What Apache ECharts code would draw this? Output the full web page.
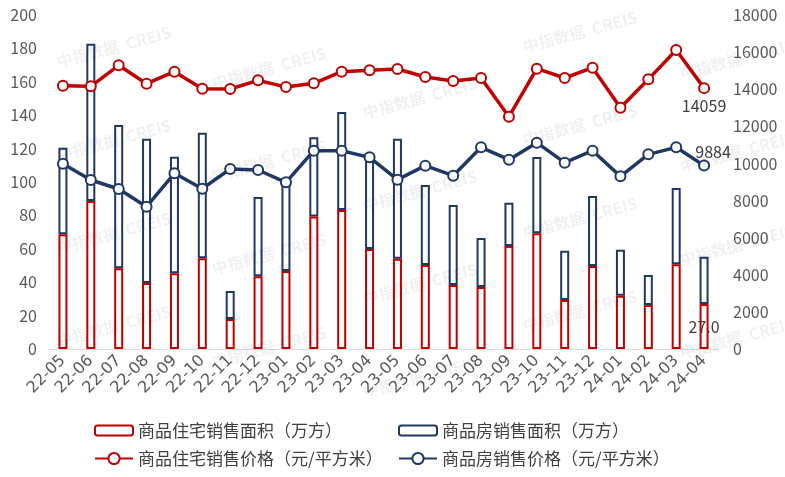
<!DOCTYPE html>
<html>
<head>
<meta charset="utf-8">
<script src="https://cdn.jsdelivr.net/npm/echarts@6/dist/echarts.min.js"></script>
<style>html,body{margin:0;padding:0;background:#fff}#c{width:785px;height:477px}</style>
</head>
<body>
<div id="c"></div>
<script>
var categories = ['22-05','22-06','22-07','22-08','22-09','22-10','22-11','22-12','23-01','23-02','23-03','23-04','23-05','23-06','23-07','23-08','23-09','23-10','23-11','23-12','24-01','24-02','24-03','24-04'];
var resArea = [68.7,88.6,48.3,39.5,45.3,54.3,18.0,43.5,46.7,79.4,83.2,59.9,54.0,50.3,38.3,37.1,61.7,69.3,29.3,49.7,31.9,26.3,50.7,27.0];
var totalArea = [120.5,182.8,134.1,125.9,115.1,129.5,34.7,91.0,99.4,126.8,141.9,113.0,125.9,98.2,86.2,66.5,87.6,115.0,58.9,91.6,59.5,44.3,96.4,55.3];
var resPrice = [14190,14155,15288,14299,14946,14030,14010,14479,14120,14318,14946,15018,15090,14658,14443,14604,12521,15108,14604,15162,13005,14533,16113,14059];
var totalPrice = [9987,9108,8623,7670,9467,8640,9700,9646,8982,10688,10688,10329,9126,9880,9341,10868,10203,11120,10041,10688,9305,10491,10868,9884];
var leftTicks = {min:0, max:200, interval:20};
var rightTicks = {min:0, max:18000, interval:2000};

var RED = '#C00000', BLUE = '#203864', TXT = '#595959';
var FONT = '"Noto Sans CJK SC", "Noto Sans", sans-serif';
var last = categories.length - 1;

var wm = [];
var wmPos = [[114,47],[114,140],[114,233],[114,326],
             [269,68],[269,161],[269,254],[269,347],
             [420,98],[420,191],[420,284],[420,377],
             [580,32],[580,125],[580,218],[580,311],
             [737,59],[737,152],[737,245],[737,338]];
wmPos.forEach(function(p){
  wm.push({type:'text', x:p[0], y:p[1], rotation:Math.PI/12, z:100, silent:true,
    style:{text:'中指数据  CREIS', font:'bold 16px ' + FONT, fill:'rgba(0,0,0,0.06)', align:'center', verticalAlign:'middle'}});
});

var chart = echarts.init(document.getElementById('c'));
var legendBase = {orient:'horizontal', itemWidth:38, itemHeight:10, itemGap:0, padding:0,
  textStyle:{fontFamily:FONT, fontSize:17, color:'#404040'}};
chart.setOption({
  animation:false,
  textStyle:{fontFamily:FONT},
  graphic: wm,
  grid:{left:49, right:67, top:15, bottom:128, containLabel:false},
  legend:[
    Object.assign({}, legendBase, {left:94, top:422, data:['商品住宅销售面积（万方）']}),
    Object.assign({}, legendBase, {left:398, top:422, data:['商品房销售面积（万方）']}),
    Object.assign({}, legendBase, {left:94, top:450, itemHeight:14, data:['商品住宅销售价格（元/平方米）']}),
    Object.assign({}, legendBase, {left:398, top:450, itemHeight:14, data:['商品房销售价格（元/平方米）']})
  ],
  xAxis:{type:'category', data:categories, boundaryGap:true,
    axisLine:{lineStyle:{color:'#D9D9D9', width:1}}, axisTick:{show:false},
    axisLabel:{rotate:45, interval:0, fontSize:16, fontFamily:'"DejaVu Sans", sans-serif', color:TXT, margin:9}},
  yAxis:[
    {type:'value', min:leftTicks.min, max:leftTicks.max, interval:leftTicks.interval,
      axisLine:{show:false}, axisTick:{show:false}, splitLine:{show:false},
      axisLabel:{fontSize:16, color:TXT, margin:12}},
    {type:'value', min:rightTicks.min, max:rightTicks.max, interval:rightTicks.interval,
      axisLine:{show:false}, axisTick:{show:false}, splitLine:{show:false},
      axisLabel:{fontSize:16, color:TXT, margin:15, formatter:function(v){return String(v);}}}
  ],
  series:[
    {name:'商品住宅销售面积（万方）', type:'bar', stack:'area', barWidth:9, data:resArea, z:6,
      itemStyle:{color:'#fff', borderColor:RED, borderWidth:2},
      label:{show:true, position:'inside', fontSize:16, color:'#404040',
        formatter:function(p){return p.dataIndex===last ? p.value.toFixed(1) : '';}}},
    {name:'商品房销售面积（万方）', type:'bar', stack:'area', barWidth:9,
      data:totalArea.map(function(v,i){return +(v - resArea[i]).toFixed(1);}),
      itemStyle:{color:'#fff', borderColor:BLUE, borderWidth:2}},
    {name:'商品住宅销售价格（元/平方米）', type:'line', yAxisIndex:1, data:resPrice,
      symbol:'circle', symbolSize:10, z:5,
      lineStyle:{color:RED, width:3.5}, itemStyle:{color:'#fff', borderColor:RED, borderWidth:2},
      label:{show:true, position:'bottom', distance:4, fontSize:16, color:'#404040',
        formatter:function(p){return p.dataIndex===last ? String(p.value) : '';}}},
    {name:'商品房销售价格（元/平方米）', type:'line', yAxisIndex:1, data:totalPrice,
      symbol:'circle', symbolSize:10, z:5,
      lineStyle:{color:BLUE, width:3.5}, itemStyle:{color:'#fff', borderColor:BLUE, borderWidth:2},
      label:{show:true, position:'top', distance:0, offset:[9,0], fontSize:16, color:'#404040',
        formatter:function(p){return p.dataIndex===last ? String(p.value) : '';}}}
  ]
});
</script>
</body>
</html>
